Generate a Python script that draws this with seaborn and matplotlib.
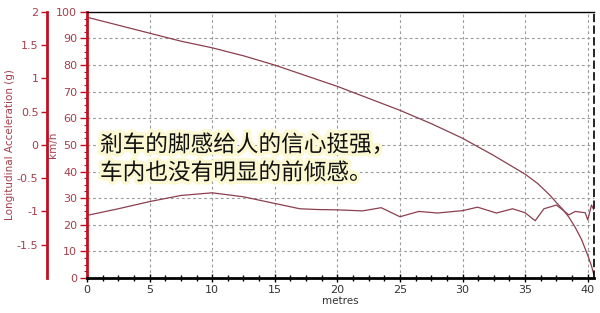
import matplotlib
matplotlib.use("Agg")
import matplotlib.pyplot as plt
import matplotlib.patheffects as pe
from matplotlib.ticker import MultipleLocator
import seaborn as sns
import pandas as pd

# ---- data ----
speed_dist = [0, 2.5, 5, 7.5, 10, 12.5, 15, 17.5, 20, 22.5, 25, 27.5, 30, 32.5, 35,
              36, 37, 37.5, 38, 38.5, 39, 39.5, 40, 40.3, 40.5]
speed_kmh = [98, 95, 92, 89, 86.5, 83.5, 80, 76, 72, 67.5, 63, 58, 52.5, 46, 39,
             35.5, 31, 28.3, 25.8, 22.8, 19, 14.5, 8.5, 4.5, 1]
decel_dist = [0, 2.5, 5, 7.5, 10, 12.5, 15, 17, 18.5, 20, 22, 23.5, 25, 26.5, 28,
              30, 31.2, 32.7, 34, 35, 35.8, 36.5, 37.5, 38.5, 39, 39.8, 40, 40.3, 40.5]
decel_val = [23.5, 26, 28.7, 31, 32, 30.5, 28, 26, 25.7, 25.6, 25.2, 26.4, 23, 25, 24.4,
             25.3, 26.6, 24.4, 26, 24.5, 21.5, 26, 27.4, 23.7, 25, 24.5, 21.8, 27.4, 25.5]
x_ticks = [0, 5, 10, 15, 20, 25, 30, 35, 40]
y_ticks = [0, 10, 20, 30, 40, 50, 60, 70, 80, 90, 100]
g_ticks = [-1.5, -1, -0.5, 0, 0.5, 1, 1.5, 2]
g_labels = ["-1.5", "-1", "-0.5", "0", "0.5", "1", "1.5", "2"]
note_lines = ["剎车的脚感给人的信心挺强，", "车内也没有明显的前倾感。"]

line_col = "#8c3f4e"
lab_col = "#a3404c"
spine_red = "#c01020"

sns.set_theme(style="white")
plt.rcParams["font.family"] = ["DejaVu Sans"]

fig = plt.figure(figsize=(6.0, 3.13), dpi=100)
ax = fig.add_axes([0.145, 0.112, 0.845, 0.85])

df_s = pd.DataFrame({"d": speed_dist, "v": speed_kmh})
df_a = pd.DataFrame({"d": decel_dist, "v": decel_val})
sns.lineplot(data=df_s, x="d", y="v", ax=ax, color=line_col, lw=0.9)
sns.lineplot(data=df_a, x="d", y="v", ax=ax, color=line_col, lw=0.9)

ax.set_xlim(0, 40.5)
ax.set_ylim(0, 100)
ax.set_xticks(x_ticks)
ax.set_yticks(y_ticks)
ax.xaxis.set_minor_locator(MultipleLocator(1.25))
ax.yaxis.set_minor_locator(MultipleLocator(2.5))
ax.grid(True, which="major", color="#9a9a9a", linestyle=(0, (2.5, 2.5)), lw=0.8)
ax.set_axisbelow(True)

for side in ["top", "bottom"]:
    ax.spines[side].set_color("black")
ax.spines["top"].set_linewidth(1.0)
ax.spines["bottom"].set_linewidth(2.0)
ax.spines["left"].set_color(spine_red)
ax.spines["left"].set_linewidth(2.0)
ax.spines["right"].set_color("black")
ax.spines["right"].set_linestyle((0, (4, 3)))
ax.spines["right"].set_linewidth(1.2)

ax.tick_params(axis="x", which="major", direction="inout", length=6, width=1, colors="black",
               labelsize=8, labelcolor="#333333", pad=2, bottom=True)
ax.tick_params(axis="x", which="minor", direction="inout", length=4, width=1, colors="black", bottom=True)
ax.tick_params(axis="y", which="major", direction="out", length=5, width=1, colors=spine_red,
               labelsize=8, labelcolor=lab_col, pad=2, left=True)
ax.tick_params(axis="y", which="minor", direction="out", length=2, width=0.8, colors=spine_red, left=True)

ax.set_xlabel("metres", fontsize=7.5, color="#333333", labelpad=1)
ax.set_ylabel("km/h", fontsize=7.5, color=lab_col)
ax.yaxis.set_label_coords(-0.057, 0.5)

# outer acceleration axis
ax2 = ax.twinx()
ax2.set_ylim(-2, 2)
ax2.set_yticks(g_ticks)
ax2.set_yticklabels(g_labels)
ax2.yaxis.set_ticks_position("left")
ax2.yaxis.set_label_position("left")
ax2.spines["left"].set_position(("outward", 29))
ax2.spines["left"].set_visible(True)
ax2.spines["left"].set_color(spine_red)
ax2.spines["left"].set_linewidth(2.0)
for side in ["right", "top", "bottom"]:
    ax2.spines[side].set_visible(False)
ax2.tick_params(axis="y", which="major", direction="out", length=4, width=1, colors=spine_red,
                labelsize=8, labelcolor=lab_col, pad=2)
ax2.set_ylabel("Longitudinal Acceleration (g)", fontsize=7.5, color=lab_col)
ax2.yaxis.set_label_coords(-0.142, 0.5)
ax2.grid(False)

# annotation
fx = 100 / 600
for i, line in enumerate(note_lines):
    fig.text(fx, 1 - (145 + 28 * i) / 313, line, fontsize=16.3, color="#111111",
             family=["Noto Sans CJK SC", "DejaVu Sans"], va="center", ha="left",
             path_effects=[pe.withStroke(linewidth=5, foreground="#fbf8d2")])

fig.savefig("out.png", dpi=100)
